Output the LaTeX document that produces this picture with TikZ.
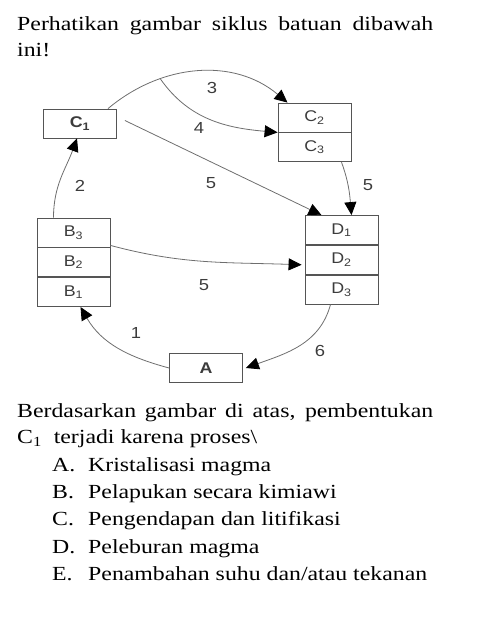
\documentclass[tikz,border=0pt]{standalone}
\usepackage{fontspec}
\setmainfont[FakeStretch=1.19]{Liberation Serif}
\setsansfont[FakeStretch=1.15]{Liberation Sans}
\usetikzlibrary{arrows.meta}
\usetikzlibrary{positioning}
\definecolor{cycgray}{RGB}{110, 110, 110}
\definecolor{boxgray}{RGB}{85, 85, 85}
\definecolor{numgray}{RGB}{60, 60, 60}
\newcommand{\rock}[2]{#1\textsubscript{#2}}

\begin{document}
\begin{tikzpicture}[x=1pt, y=1pt,
    rock/.style={draw=boxgray, line width=0.8pt, minimum width=73pt, minimum height=29pt, inner sep=0pt, text=numgray, font=\sffamily\fontsize{15.5}{15.5}\selectfont},
    cyc/.style={cycgray, line width=0.8pt, -{Triangle[length=13pt, width=12pt, color=black]}},
    num/.style={text=numgray, font=\sffamily\fontsize{16}{16}\selectfont},
    txt/.style={anchor=base west, inner sep=0pt, font=\fontsize{20}{24}\selectfont}]
    \useasboundingbox (0, 0) rectangle (500, -631);

    \node[txt] (title1) at (17, -31) {\makebox[416pt][s]{Perhatikan gambar siklus batuan dibawah}};
    \node[txt] (title2) at (17, -57) {ini!};

    \node[rock, font=\sffamily\bfseries\fontsize{15.5}{15.5}\selectfont] (C1) at (80, -123.5) {\rock{C}{1}};
    \node[rock] (C2) at (314.5, -117.5) {\rock{C}{2}};
    \node[rock, below=0pt of C2] (C3) {\rock{C}{3}};
    \node[rock] (D1) at (341.5, -230) {\rock{D}{1}};
    \node[rock, below=0pt of D1] (D2) {\rock{D}{2}};
    \node[rock, below=0pt of D2] (D3) {\rock{D}{3}};
    \node[rock] (B3) at (73.5, -232.5) {\rock{B}{3}};
    \node[rock, below=0pt of B3] (B2) {\rock{B}{2}};
    \node[rock, below=0pt of B2] (B1) {\rock{B}{1}};
    \node[rock, font=\sffamily\bfseries\fontsize{15.5}{15.5}\selectfont] (A) at (206, -368) {A};

    \draw[cyc] (A.west) to[out=165, in=-60] ([xshift=7pt]B1.south);
    \draw[cyc] ([xshift=-20pt]B3.north) to[out=90, in=-110] ([xshift=-3pt]C1.south);
    \draw[cyc] ([xshift=28pt]C1.north) to[out=40, in=140] coordinate[pos=0.3] (fork) ([xshift=-27pt]C2.north);
    \draw[cyc] (fork) to[out=-55, in=175] (C2.south west);
    \draw[cyc] ([xshift=8pt, yshift=3pt]C1.east) -- ([xshift=-20pt]D1.north);
    \draw[cyc] ([xshift=27pt]C3.south) to[out=-70, in=95] ([xshift=10pt]D1.north);
    \draw[cyc] ([yshift=2pt]B3.south east) to[out=-15, in=178] ([xshift=-3pt, yshift=-5pt]D2.west);
    \draw[cyc] ([xshift=-11pt]D3.south) to[out=-105, in=20] ([xshift=3pt]A.east);

    \node[num] at (212, -88) {3};
    \node[num] at (199, -128) {4};
    \node[num] at (211, -183) {5};
    \node[num] at (368, -185) {5};
    \node[num] at (80, -186) {2};
    \node[num] at (204, -285) {5};
    \node[num] at (136, -333) {1};
    \node[num] at (320, -351) {6};

    \node[txt] (quest1) at (17, -417) {\makebox[416pt][s]{Berdasarkan gambar di atas, pembentukan}};
    \node[txt] (quest2) at (17, -443) {C\textsubscript{1}\ \ terjadi karena proses\textbackslash};
    \foreach \lt/\opt [count=\i] in {A/{Kristalisasi magma}, B/{Pelapukan secara kimiawi}, C/{Pengendapan dan litifikasi}, D/{Peleburan magma}, E/{Penambahan suhu dan/atau tekanan}} {
        \node[txt] (letter\i) at (52, {-444 - 27.3*\i}) {\lt.};
        \node[txt] (option\i) at (88, {-444 - 27.3*\i}) {\opt};
    }
\end{tikzpicture}
\end{document}
